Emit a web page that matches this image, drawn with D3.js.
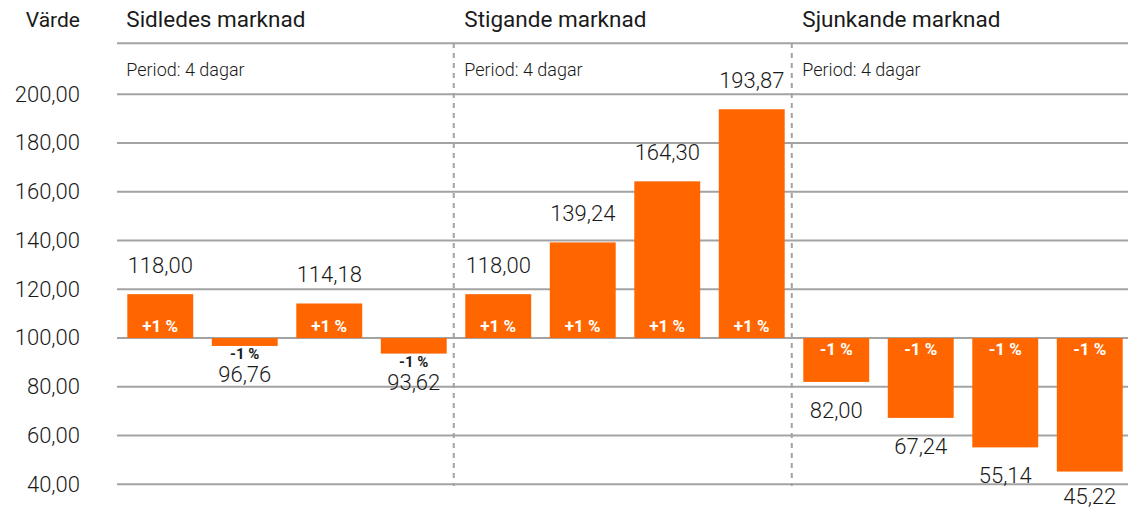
<!DOCTYPE html>
<html lang="sv">
<head>
    <meta charset="UTF-8">
    <title>Marknadsscenarier</title>
    <script src="https://d3js.org/d3.v7.min.js"></script>
    <style>
        body { margin: 0; background: #fff; }
        text { font-family: Roboto, "Open Sans", sans-serif; fill: #1a1a1a; }
        .grid { stroke: #a3a3a3; stroke-width: 2px; }
        .divider { stroke: #a3a3a3; stroke-width: 2px; stroke-dasharray: 5,5; }
    </style>
</head>
<body>
    <svg width="1128" height="511"></svg>
    <script>
const groups = ["Sidledes marknad", "Stigande marknad", "Sjunkande marknad"];
const periodLabel = "Period: 4 dagar";
const sidledes = [118.00, 96.76, 114.18, 93.62];
const stigande = [118.00, 139.24, 164.30, 193.87];
const sjunkande = [82.00, 67.24, 55.14, 45.22];
const changes = ["+1 %", "-1 %", "+1 %", "-1 %", "+1 %", "+1 %", "+1 %", "+1 %", "-1 %", "-1 %", "-1 %", "-1 %"];
const yTicks = [40, 60, 80, 100, 120, 140, 160, 180, 200];
const baseValue = 100;

const svg = d3.select("svg");
const left = 117, right = 1128;

const values = [].concat(sidledes, stigande, sjunkande);
const bars = values.map((v, i) => ({ i: i, value: v, group: Math.floor(i / 4), change: changes[i] }));

const y = d3.scaleLinear().domain([40, 200]).range([484.3, 94.3]);
const x = d3.scaleBand().domain(d3.range(bars.length)).range([118, 1132]).paddingInner(0.22).paddingOuter(0.11);

const fmt = v => d3.format(".2f")(v).replace(".", ",");
const isShortNeg = d => d.value < baseValue && Math.abs(y(d.value) - y(baseValue)) < 25;

// header line + gridlines
svg.append("line").attr("class", "grid")
   .attr("x1", left).attr("x2", right).attr("y1", 43.3).attr("y2", 43.3);

svg.selectAll(".gl")
   .data(yTicks)
   .enter().append("line")
   .attr("class", "grid")
   .attr("x1", left).attr("x2", right)
   .attr("y1", d => y(d)).attr("y2", d => y(d));

// y axis labels
svg.selectAll(".ylab")
   .data(yTicks)
   .enter().append("text")
   .attr("x", 80)
   .attr("y", d => y(d))
   .attr("dy", "0.33em")
   .attr("text-anchor", "end")
   .style("font-size", "22px")
   .style("font-weight", 300)
   .text(d => fmt(d));

svg.append("text").attr("x", 80).attr("y", 27)
   .attr("text-anchor", "end").style("font-size", "21px").text("Värde");

// dashed dividers between groups
[4, 8].forEach(k => {
    const xd = x(k - 1) + x.bandwidth() + x.step() * x.paddingInner() * 0.38;
    svg.append("line").attr("class", "divider")
       .attr("x1", xd).attr("x2", xd).attr("y1", 43).attr("y2", 486);
});

// group headers
groups.forEach((g, gi) => {
    const gx = x(gi * 4) - 1;
    svg.append("text").attr("x", gx).attr("y", 27).style("font-size", "22.5px").text(g);
    svg.append("text").attr("x", gx).attr("y", 76).style("font-size", "18px")
       .style("font-weight", 300).text(periodLabel);
});

// bars
svg.selectAll(".bar")
   .data(bars)
   .enter().append("rect")
   .attr("x", d => x(d.i))
   .attr("width", x.bandwidth())
   .attr("y", d => y(Math.max(d.value, baseValue)))
   .attr("height", d => Math.abs(y(d.value) - y(baseValue)))
   .attr("fill", "#ff6600");

// value labels (kept inside the picture at the bottom)
svg.selectAll(".val")
   .data(bars)
   .enter().append("text")
   .attr("x", d => x(d.i) + x.bandwidth() / 2)
   .attr("y", d => d.value >= baseValue ? y(d.value) - 21 : Math.min(y(d.value) + 36, 504))
   .attr("text-anchor", "middle")
   .style("font-size", "22px")
   .style("font-weight", 300)
   .text(d => fmt(d.value));

// percent labels
svg.selectAll(".pct")
   .data(bars)
   .enter().append("text")
   .attr("x", d => x(d.i) + x.bandwidth() / 2)
   .attr("y", d => {
       if (d.value >= baseValue) return y(baseValue) - 6;
       return isShortNeg(d) ? y(d.value) + 13 : y(baseValue) + 17;
   })
   .attr("text-anchor", "middle")
   .style("font-size", d => isShortNeg(d) ? "15px" : "17px")
   .style("font-weight", "bold")
   .style("fill", d => isShortNeg(d) ? "#1a1a1a" : "#fff")
   .text(d => d.change);
    </script>
</body>
</html>
